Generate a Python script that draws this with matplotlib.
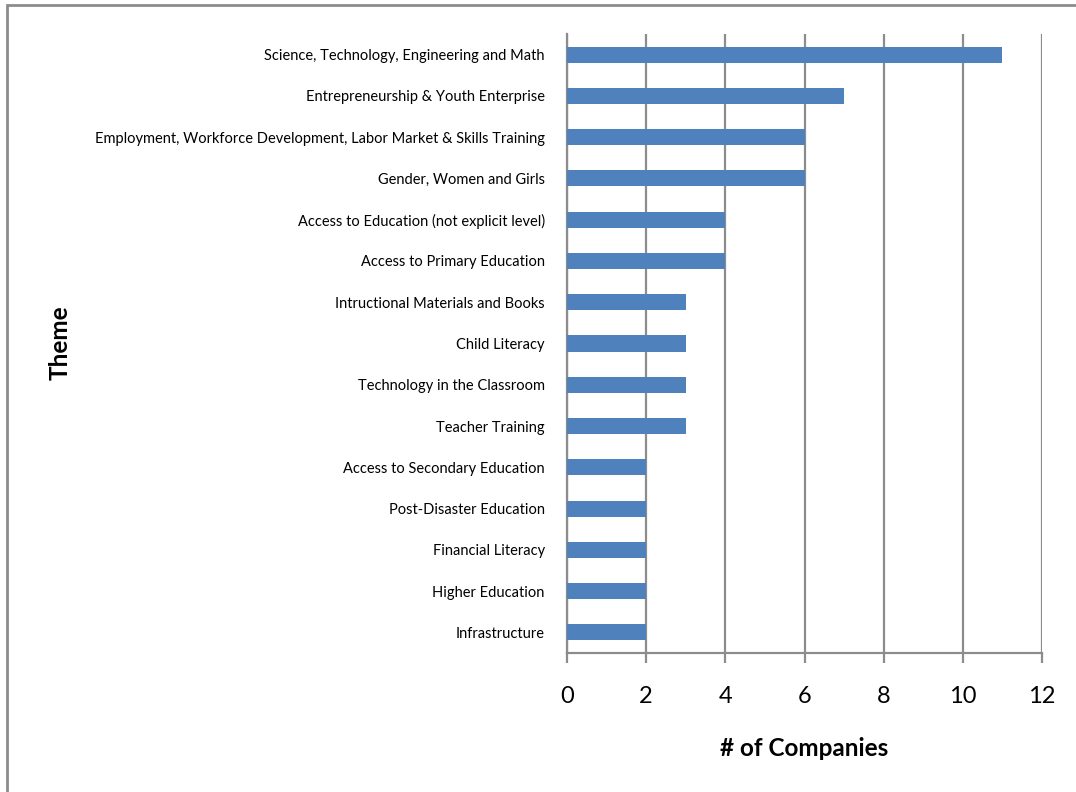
import matplotlib.pyplot as plt
from matplotlib.patches import Rectangle

# Data
themes = [
    'Science, Technology, Engineering and Math',
    'Entrepreneurship & Youth Enterprise',
    'Employment, Workforce Development, Labor Market & Skills Training',
    'Gender, Women and Girls',
    'Access to Education (not explicit level)',
    'Access to Primary Education',
    'Intructional Materials and Books',
    'Child Literacy',
    'Technology in the Classroom',
    'Teacher Training',
    'Access to Secondary Education',
    'Post-Disaster Education',
    'Financial Literacy',
    'Higher Education',
    'Infrastructure',
]
companies = [11, 7, 6, 6, 4, 4, 3, 3, 3, 3, 2, 2, 2, 2, 2]
x_ticks = [0, 2, 4, 6, 8, 10, 12]

plt.rcParams['font.family'] = ['Lato', 'DejaVu Sans']
grid_color = '#8c8c8c'

fig = plt.figure(figsize=(10.76, 7.92), dpi=100)
ax = fig.add_axes([567 / 1076, 1 - 653 / 792, 475 / 1076, 619 / 792])

pos = list(range(len(themes)))
ax.barh(pos, companies, height=0.39, color='#4F81BD', zorder=3)

ax.set_xlim(0, 12)
ax.set_ylim(len(themes) - 0.5, -0.5)
ax.set_xticks(x_ticks)
ax.set_xticklabels([str(t) for t in x_ticks], fontsize=17)
ax.set_yticks(pos)
ax.set_yticklabels(themes, fontsize=10.5)

ax.grid(axis='x', color=grid_color, linewidth=1.6, zorder=1)
for side in ['top', 'right']:
    ax.spines[side].set_visible(False)
for side in ['left', 'bottom']:
    ax.spines[side].set_color(grid_color)
    ax.spines[side].set_linewidth(1.6)

ax.tick_params(axis='y', length=0, pad=16)
ax.tick_params(axis='x', length=7, width=1.6, color=grid_color, pad=17)

fig.text(804 / 1076, 1 - 748 / 792, '# of Companies', fontsize=17.5,
         fontweight='bold', ha='center', va='center')
fig.text(60 / 1076, 1 - 343 / 792, 'Theme', fontsize=17.5,
         fontweight='bold', ha='center', va='center', rotation=90)

# outer frame of the chart area
fig.patches.append(Rectangle((7 / 1076, -0.05), 1.2, 1 - 5 / 792 + 0.05,
                             transform=fig.transFigure, fill=False,
                             edgecolor=grid_color, linewidth=2))

fig.savefig('out.png', dpi=100)
